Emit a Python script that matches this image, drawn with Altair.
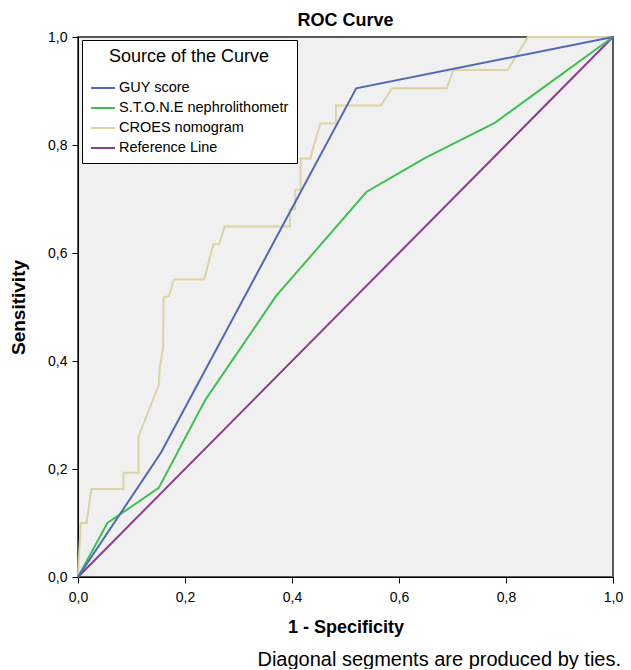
import altair as alt
import pandas as pd

series_names = ["GUY score", "S.T.O.N.E nephrolithometr", "CROES nomogram", "Reference Line"]
series_colors = ["#4f68b8", "#3ec04e", "#d9d4a2", "#8a3c8e"]

guy_x = [0.0, 0.155, 0.52, 1.0]
guy_y = [0.0, 0.23, 0.905, 1.0]

stone_x = [0.0, 0.055, 0.151, 0.238, 0.37, 0.539, 0.649, 0.779, 0.858, 1.0]
stone_y = [0.0, 0.10, 0.165, 0.328, 0.52, 0.713, 0.776, 0.841, 0.898, 1.0]

croes_x = [0.0, 0.005, 0.016, 0.025, 0.085, 0.085, 0.113, 0.113, 0.151, 0.153, 0.159,
           0.16, 0.17, 0.179, 0.236, 0.253, 0.264, 0.274, 0.396, 0.396, 0.406, 0.406,
           0.416, 0.416, 0.434, 0.453, 0.482, 0.482, 0.566, 0.587, 0.689, 0.702, 0.803,
           0.841, 1.0]
croes_y = [0.0, 0.10, 0.10, 0.163, 0.163, 0.193, 0.193, 0.26, 0.356, 0.389, 0.424,
           0.518, 0.52, 0.551, 0.551, 0.616, 0.616, 0.649, 0.649, 0.681, 0.681, 0.717,
           0.717, 0.775, 0.775, 0.84, 0.84, 0.873, 0.873, 0.905, 0.905, 0.939, 0.939,
           1.0, 1.0]

ref_x = [0.0, 1.0]
ref_y = [0.0, 1.0]

tick_values = [0, 0.2, 0.4, 0.6, 0.8, 1.0]

rows = []
for name, xs, ys in [(series_names[0], guy_x, guy_y),
                     (series_names[1], stone_x, stone_y),
                     (series_names[2], croes_x, croes_y),
                     (series_names[3], ref_x, ref_y)]:
    for i, (a, b) in enumerate(zip(xs, ys)):
        rows.append({"series": name, "fpr": a, "tpr": b, "i": i})
df = pd.DataFrame(rows)

FONT = "Liberation Sans"

color = alt.Color(
    "series:N",
    scale=alt.Scale(domain=series_names, range=series_colors),
    legend=alt.Legend(
        title="Source of the Curve",
        orient="none", legendX=4, legendY=3,
        titleFontSize=18, titleFontWeight="normal", titleFont=FONT,
        titleAnchor="middle", titleColor="black", titlePadding=9,
        labelFontSize=14.5, labelFont=FONT, labelColor="black", labelLimit=300,
        symbolType="stroke", symbolSize=576, symbolStrokeWidth=2,
        symbolOffset=0, labelOffset=3, rowPadding=-4,
        fillColor="white", strokeColor="black", padding=8,
    ),
)

xaxis = alt.Axis(
    values=tick_values,
    labelExpr="replace(format(datum.value, '.1f'), '.', ',')",
    grid=False, tickSize=6, tickColor="black", domainColor="black",
    labelFontSize=14, labelFont=FONT, labelColor="black", labelPadding=7,
    labelFlush=False,
    title="1 - Specificity", titleFontSize=18, titleFont=FONT, titleFontWeight="bold",
    titleColor="black", titlePadding=14,
)
yaxis = alt.Axis(
    values=tick_values,
    labelExpr="replace(format(datum.value, '.1f'), '.', ',')",
    grid=False, tickSize=6, tickColor="black", domainColor="black",
    labelFontSize=14, labelFont=FONT, labelColor="black", labelPadding=5,
    labelFlush=False,
    title="Sensitivity", titleFontSize=19, titleFont=FONT, titleFontWeight="bold",
    titleColor="black", titlePadding=19,
)

base = alt.Chart(df).encode(
    x=alt.X("fpr:Q", scale=alt.Scale(domain=[0, 1], nice=False), axis=xaxis),
    y=alt.Y("tpr:Q", scale=alt.Scale(domain=[0, 1], nice=False), axis=yaxis),
    color=color,
    order=alt.Order("i:Q"),
)

layers = []
for name in [series_names[2], series_names[3], series_names[1], series_names[0]]:
    layers.append(base.transform_filter(alt.datum.series == name).mark_line(strokeWidth=2))

footnote = alt.Chart(pd.DataFrame({"t": ["Diagonal segments are produced by ties."]})).mark_text(
    font=FONT, fontSize=20, color="black", align="right", baseline="middle"
).encode(text="t:N", x=alt.value(543), y=alt.value(623))

chart = alt.layer(*layers, footnote).properties(
    width=535, height=540,
    title=alt.TitleParams("ROC Curve", fontSize=18, font=FONT, fontWeight="bold",
                          color="black", anchor="middle", offset=0),
    autosize=alt.AutoSizeParams(type="none"),
    padding={"left": 70, "top": 29, "right": 10, "bottom": 92},
).configure(
    background="white"
).configure_view(
    fill="#f0f0f0", stroke="#5a5a5a", strokeWidth=2
)

chart.save("out.html", embed_options={"renderer": "svg", "actions": False})
